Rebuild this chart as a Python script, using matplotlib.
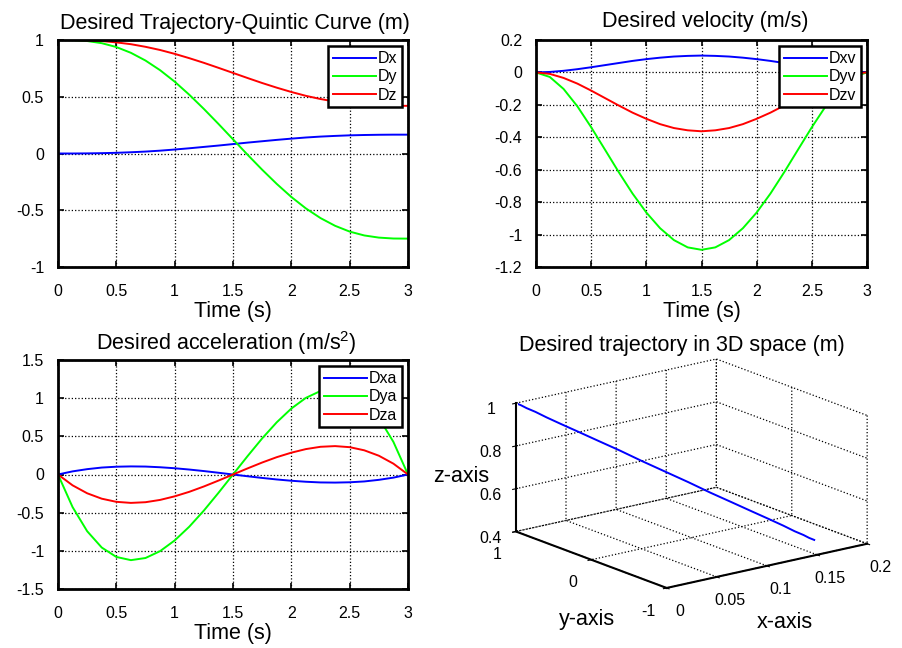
import matplotlib
matplotlib.use("Agg")
import matplotlib.pyplot as plt
from matplotlib.ticker import FuncFormatter

plt.rcParams['font.family'] = ['Liberation Sans', 'DejaVu Sans']
plt.rcParams['mathtext.fontset'] = 'custom'
plt.rcParams['mathtext.rm'] = 'Liberation Sans'
plt.rcParams['grid.color'] = 'black'
plt.rcParams['grid.linestyle'] = ':'
plt.rcParams['grid.linewidth'] = 0.9
plt.rcParams['axes.unicode_minus'] = False

# time samples (s)
t = [0, 0.125, 0.25, 0.375, 0.5, 0.625, 0.75, 0.875, 1.0, 1.125, 1.25, 1.375, 1.5,
     1.625, 1.75, 1.875, 2.0, 2.125, 2.25, 2.375, 2.5, 2.625, 2.75, 2.875, 3.0]

# position (m)
dx = [0, 0.000, 0.001, 0.003, 0.006, 0.011, 0.017, 0.025, 0.035, 0.046, 0.058, 0.070, 0.083,
      0.096, 0.108, 0.120, 0.131, 0.141, 0.149, 0.155, 0.160, 0.163, 0.165, 0.166, 0.166]
dy = [1, 0.999, 0.991, 0.972, 0.938, 0.887, 0.819, 0.734, 0.633, 0.518, 0.393, 0.261, 0.125,
      -0.011, -0.143, -0.268, -0.383, -0.484, -0.569, -0.637, -0.688, -0.722, -0.741, -0.749, -0.75]
dz = [1, 1.000, 0.997, 0.991, 0.979, 0.963, 0.940, 0.912, 0.878, 0.840, 0.799, 0.755, 0.71,
      0.665, 0.621, 0.580, 0.542, 0.508, 0.480, 0.457, 0.441, 0.429, 0.423, 0.420, 0.42]

# velocity (m/s)
dxv = [0, 0.003, 0.010, 0.020, 0.032, 0.045, 0.058, 0.071, 0.082, 0.091, 0.098, 0.102, 0.104,
       0.102, 0.098, 0.091, 0.082, 0.071, 0.058, 0.045, 0.032, 0.020, 0.010, 0.003, 0]
dyv = [0, -0.028, -0.102, -0.209, -0.338, -0.476, -0.615, -0.747, -0.864, -0.961, -1.034, -1.079, -1.094,
       -1.079, -1.034, -0.961, -0.864, -0.747, -0.615, -0.476, -0.338, -0.209, -0.102, -0.028, 0]
dzv = [0, -0.009, -0.034, -0.069, -0.112, -0.158, -0.204, -0.248, -0.286, -0.319, -0.343, -0.357, -0.363,
       -0.357, -0.343, -0.319, -0.286, -0.248, -0.204, -0.158, -0.112, -0.069, -0.034, -0.009, 0]

# acceleration (m/s^2)
dxa = [0, 0.041, 0.070, 0.091, 0.102, 0.106, 0.104, 0.095, 0.082, 0.065, 0.045, 0.023, 0,
       -0.023, -0.045, -0.065, -0.082, -0.095, -0.104, -0.106, -0.102, -0.091, -0.070, -0.041, 0]
dya = [0, -0.427, -0.743, -0.957, -1.080, -1.122, -1.094, -1.004, -0.864, -0.684, -0.473, -0.241, 0,
       0.241, 0.473, 0.684, 0.864, 1.004, 1.094, 1.122, 1.080, 0.957, 0.743, 0.427, 0]
dza = [0, -0.142, -0.246, -0.317, -0.358, -0.372, -0.363, -0.333, -0.286, -0.227, -0.157, -0.080, 0,
       0.080, 0.157, 0.227, 0.286, 0.333, 0.363, 0.372, 0.358, 0.317, 0.246, 0.142, 0]

time_ticks = [0, 0.5, 1, 1.5, 2, 2.5, 3]
pos_ticks = [-1, -0.5, 0, 0.5, 1]
vel_ticks = [-1.2, -1, -0.8, -0.6, -0.4, -0.2, 0, 0.2]
acc_ticks = [-1.5, -1, -0.5, 0, 0.5, 1, 1.5]
x3_ticks = [0, 0.05, 0.1, 0.15, 0.2]
y3_ticks = [-1, 0, 1]
z3_ticks = [0.4, 0.6, 0.8, 1]

BLUE, GREEN, RED = '#0000ff', '#00ff00', '#ff0000'
TICK_FS, LABEL_FS = 11.5, 15.5
fmt = FuncFormatter(lambda v, p: '%g' % round(v, 4))


def style_2d(ax, ylim, yticks):
    ax.set_xlim(0, 3)
    ax.set_ylim(*ylim)
    ax.set_xticks(time_ticks)
    ax.set_yticks(yticks)
    ax.xaxis.set_major_formatter(fmt)
    ax.yaxis.set_major_formatter(fmt)
    ax.grid(True)
    ax.tick_params(direction='in', length=4, width=1.2, labelsize=TICK_FS,
                   top=True, right=True)
    ax.tick_params(axis='x', pad=12)
    ax.tick_params(axis='y', pad=10)
    for s in ax.spines.values():
        s.set_linewidth(2)
    ax.set_xlabel('Time (s)', fontsize=LABEL_FS, labelpad=2)


def add_legend(ax):
    leg = ax.legend(loc='upper right', fontsize=TICK_FS, fancybox=False, framealpha=1,
                    edgecolor='black', handlelength=2.7, handletextpad=0.1,
                    labelspacing=0.2, borderpad=0.3, borderaxespad=0.4)
    leg.get_frame().set_linewidth(1.8)


fig = plt.figure(figsize=(9.02, 6.48), dpi=100)

ax1 = fig.add_axes([58 / 902, 1 - 267 / 648, 350 / 902, 227 / 648])
ax1.plot(t, dx, color=BLUE, lw=1.4, label='Dx')
ax1.plot(t, dy, color=GREEN, lw=1.4, label='Dy')
ax1.plot(t, dz, color=RED, lw=1.4, label='Dz')
style_2d(ax1, (-1, 1), pos_ticks)
add_legend(ax1)

ax2 = fig.add_axes([536 / 902, 1 - 267 / 648, 331 / 902, 227 / 648])
ax2.plot(t, dxv, color=BLUE, lw=1.4, label='Dxv')
ax2.plot(t, dyv, color=GREEN, lw=1.4, label='Dyv')
ax2.plot(t, dzv, color=RED, lw=1.4, label='Dzv')
style_2d(ax2, (-1.2, 0.2), vel_ticks)
add_legend(ax2)

ax3 = fig.add_axes([58 / 902, 1 - 589 / 648, 350 / 902, 229 / 648])
ax3.plot(t, dxa, color=BLUE, lw=1.4, label='Dxa')
ax3.plot(t, dya, color=GREEN, lw=1.4, label='Dya')
ax3.plot(t, dza, color=RED, lw=1.4, label='Dza')
style_2d(ax3, (-1.5, 1.5), acc_ticks)
add_legend(ax3)

# titles placed in figure pixels to follow the reference layout
fig.text(235 / 902, 1 - 23 / 648, 'Desired Trajectory-Quintic Curve (m)',
         ha='center', va='center', fontsize=LABEL_FS)
fig.text(705 / 902, 1 - 21 / 648, 'Desired velocity (m/s)',
         ha='center', va='center', fontsize=LABEL_FS)
fig.text(226 / 902, 1 - 343 / 648, 'Desired acceleration (m/s$^2$)',
         ha='center', va='center', fontsize=LABEL_FS)
fig.text(682 / 902, 1 - 346 / 648, 'Desired trajectory in 3D space (m)',
         ha='center', va='center', fontsize=LABEL_FS)

# 3D trajectory
w3, h3 = 0.42, 0.52
ax4 = fig.add_axes([0.7616 - w3 / 2, 0.2623 - h3 / 2, w3, h3], projection='3d')
ax4.plot(dx, dy, dz, color=BLUE, lw=1.4)
ax4.set_proj_type('ortho')
ax4.view_init(elev=16.7, azim=-127.5)
ax4.set_box_aspect((1.0, 0.98, 0.53), zoom=1.09)
ax4.set_xlim(0, 0.2)
ax4.set_ylim(-1, 1)
ax4.set_zlim(0.4, 1)
ax4.set_xticks(x3_ticks)
ax4.set_yticks(y3_ticks)
ax4.set_zticks(z3_ticks)
for axis in (ax4.xaxis, ax4.yaxis, ax4.zaxis):
    axis.set_major_formatter(fmt)
    axis.set_pane_color((1, 1, 1, 0))
    axis.pane.set_edgecolor('none')
    axis.line.set_linewidth(1.5)
ax4.tick_params(labelsize=TICK_FS)
ax4.tick_params(axis='z', pad=1)
ax4.tick_params(axis='x', pad=3)
ax4.set_facecolor('none')
fig.text(461 / 902, 1 - 477 / 648, 'z-axis', ha='center', va='center', fontsize=LABEL_FS)
fig.text(587 / 902, 1 - 620 / 648, 'y-axis', ha='center', va='center', fontsize=LABEL_FS)
fig.text(785 / 902, 1 - 623 / 648, 'x-axis', ha='center', va='center', fontsize=LABEL_FS)

fig.savefig('out.png', dpi=100)
